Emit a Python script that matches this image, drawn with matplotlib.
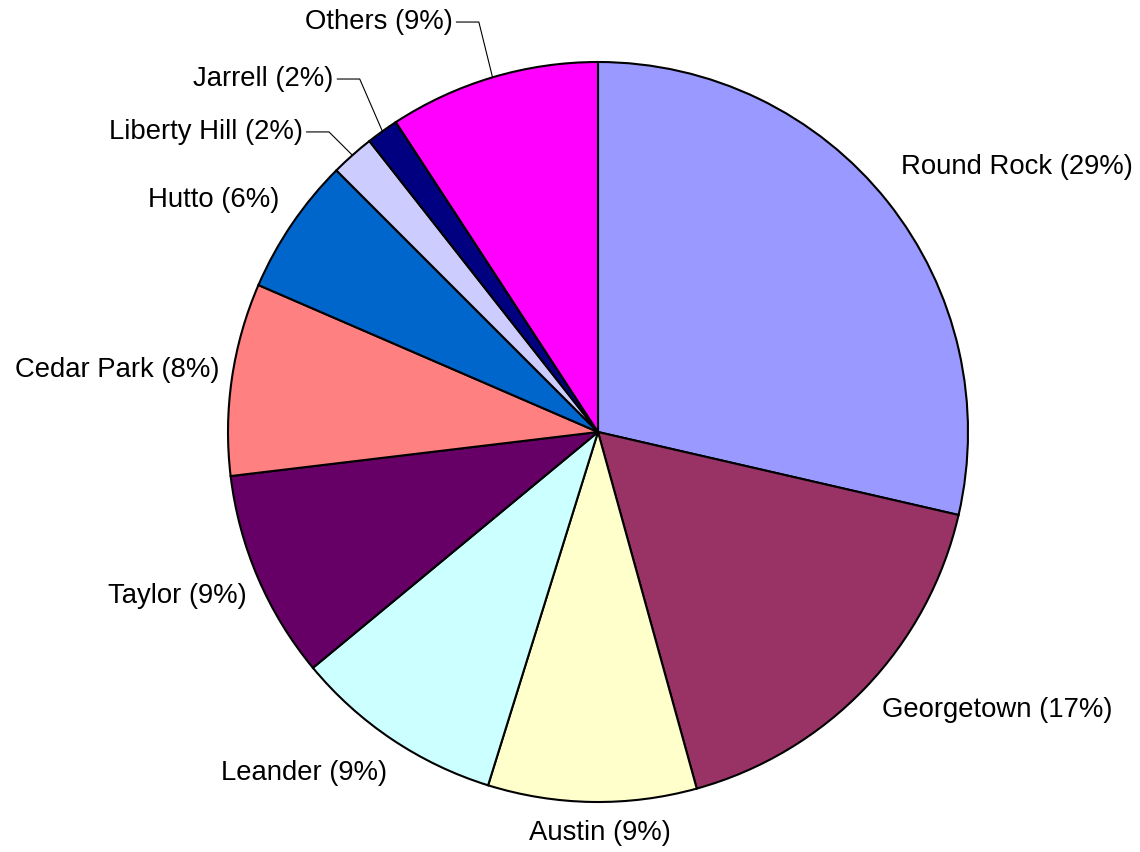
import numpy as np
import matplotlib
matplotlib.use("Agg")
import matplotlib.pyplot as plt

plt.rcParams['font.family'] = ['Liberation Sans', 'DejaVu Sans']

cities = ["Round Rock", "Georgetown", "Austin", "Leander", "Taylor",
          "Cedar Park", "Hutto", "Liberty Hill", "Jarrell", "Others"]
shares = [28.6, 17.1, 9.1, 9.2, 9.1, 8.4, 6.0, 1.9, 1.4, 9.2]
pct_labels = ["29%", "17%", "9%", "9%", "9%", "8%", "6%", "2%", "2%", "9%"]
colors = ["#9999FF", "#993366", "#FFFFCC", "#CCFFFF", "#660066",
          "#FF8080", "#0066CC", "#CCCCFF", "#000080", "#FF00FF"]

# label layout (axes data units, pie radius = 1)
label_pos = [(0.819, 0.716), (0.768, -0.751), (0.005, -1.084), (-0.570, -0.922),
             (-0.949, -0.443), (-1.024, 0.168), (-0.862, 0.627), (-0.797, 0.811),
             (-0.714, 0.954), (-0.392, 1.108)]
label_ha = ["left", "left", "center", "right", "right", "right", "right",
            "right", "right", "right"]
leader = [False, False, False, False, False, False, False, True, True, True]

W, H = 1140, 852
fig = plt.figure(figsize=(W / 100, H / 100), dpi=100)
ax = fig.add_axes([0, 0, 1, 1])

wedges, _ = ax.pie(shares, colors=colors, startangle=90, counterclock=False,
                   radius=1.0,
                   wedgeprops=dict(edgecolor="black", linewidth=1.5))

cx_px, cy_px, r_px = 598, 432, 370
ax.set_xlim(-cx_px / r_px, (W - cx_px) / r_px)
ax.set_ylim(-(H - cy_px) / r_px, cy_px / r_px)
ax.set_aspect("auto")
ax.axis("off")

fs = 19.8
for i, w in enumerate(wedges):
    txt = f"{cities[i]} ({pct_labels[i]})"
    x, y = label_pos[i]
    ax.text(x, y, txt, ha=label_ha[i], va="center", fontsize=fs, color="black")
    if leader[i]:
        mid = np.deg2rad((w.theta1 + w.theta2) / 2)
        ex, ey = np.cos(mid), np.sin(mid)
        sx = x + 0.008
        elbow = sx + 0.062
        ax.plot([sx, elbow, ex], [y, y, ey], color="black", linewidth=0.8,
                solid_capstyle="butt")

fig.savefig("out.png", dpi=100)
